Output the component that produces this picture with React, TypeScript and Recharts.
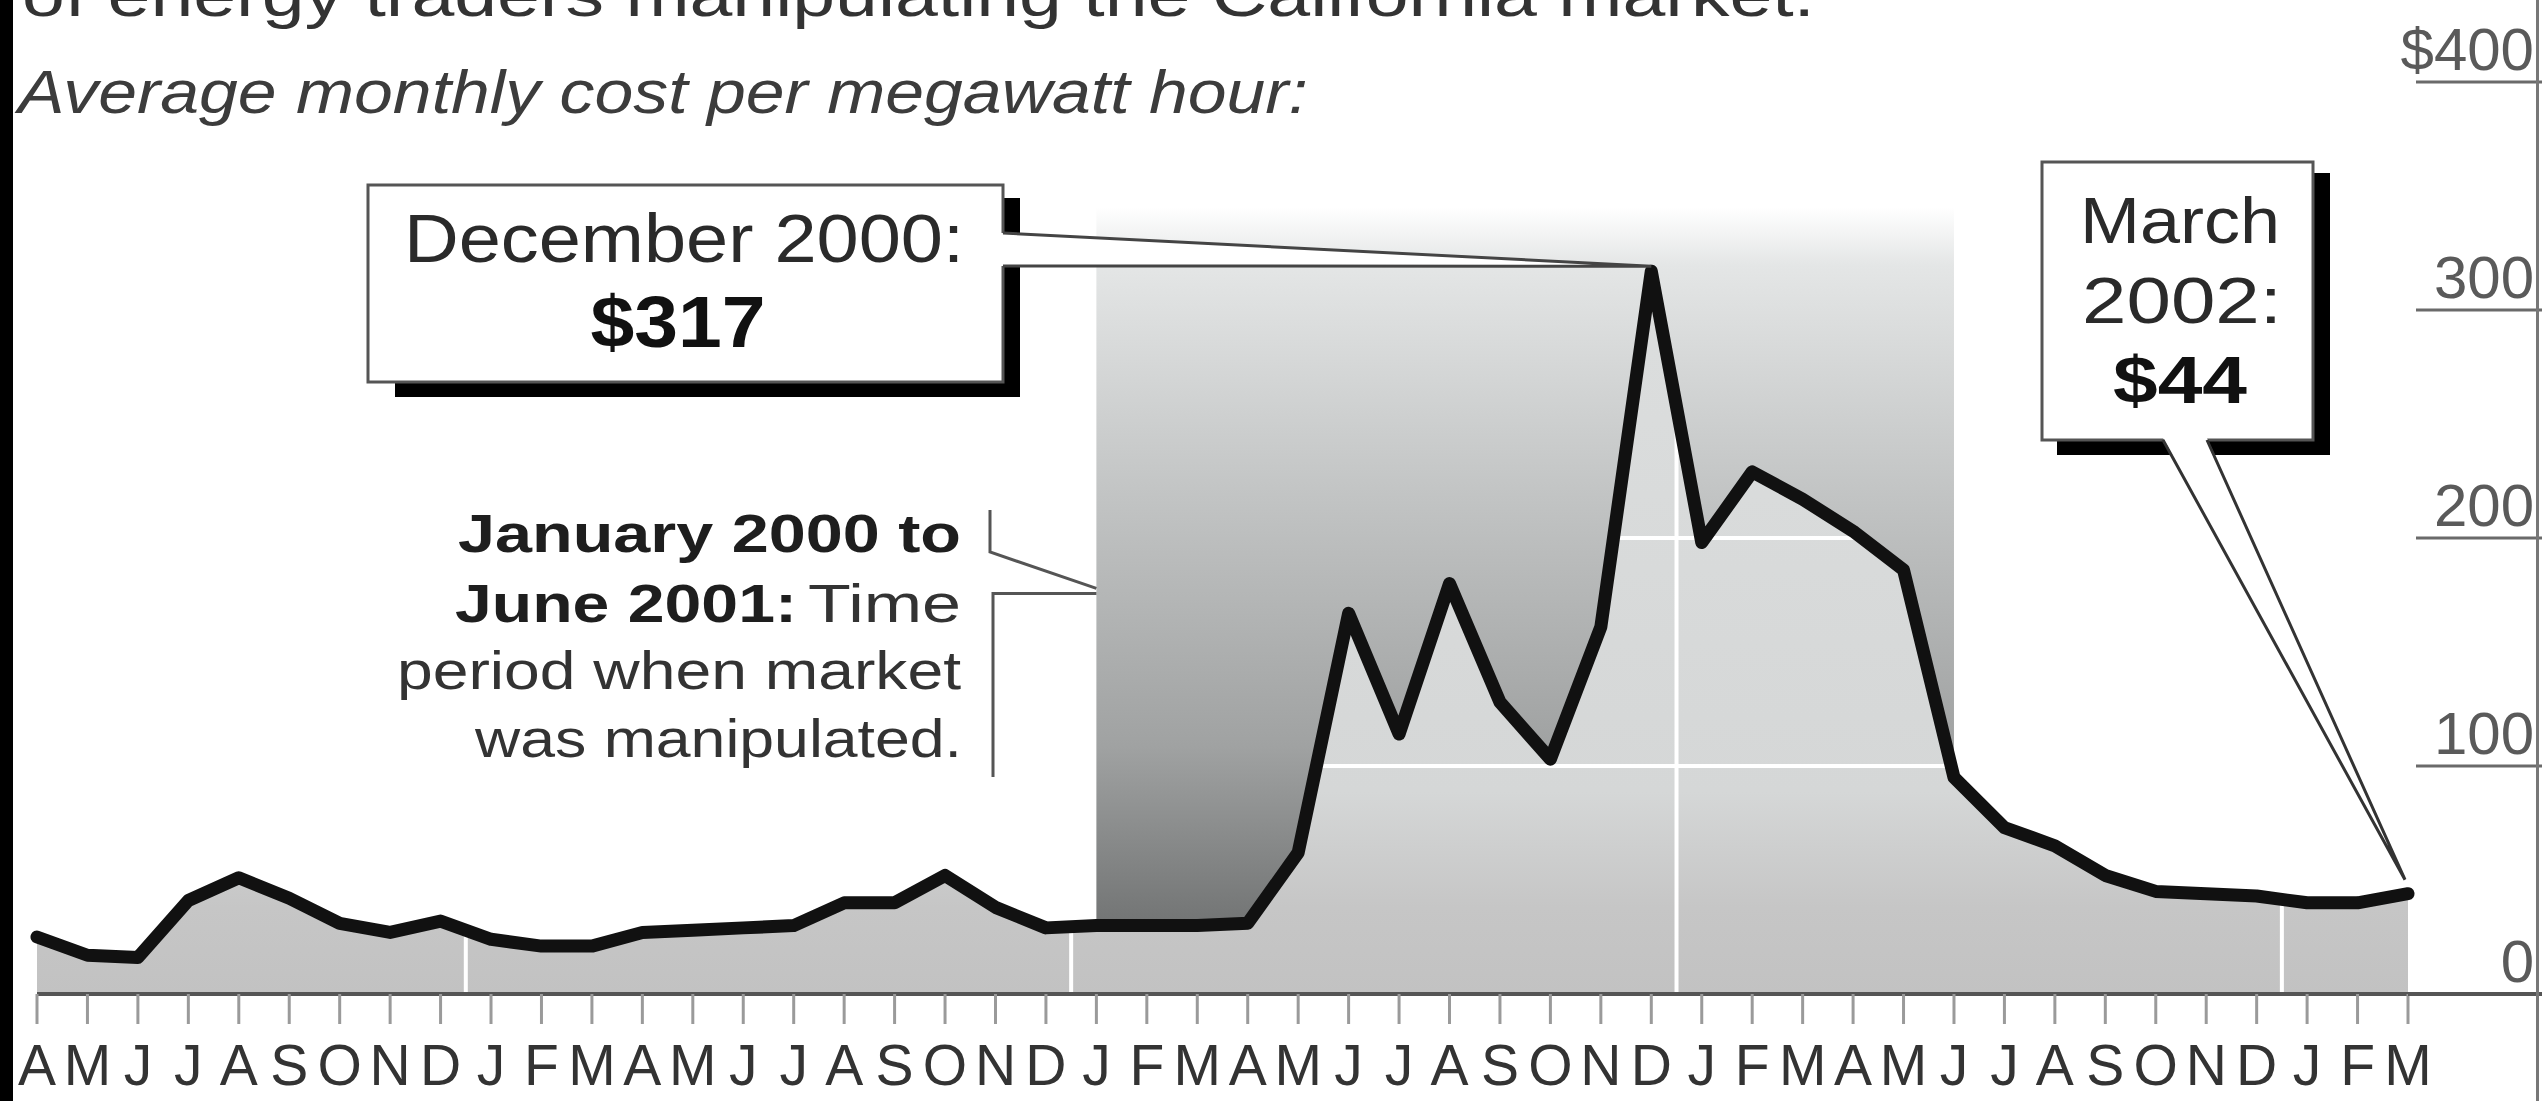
import { Area, ComposedChart, Line, ReferenceDot, ReferenceLine, XAxis, YAxis } from 'recharts';

// months April 1998 .. March 2002
const MONTHS = [
  'A', 'M', 'J', 'J', 'A', 'S', 'O', 'N', 'D',
  'J', 'F', 'M', 'A', 'M', 'J', 'J', 'A', 'S', 'O', 'N', 'D',
  'J', 'F', 'M', 'A', 'M', 'J', 'J', 'A', 'S', 'O', 'N', 'D',
  'J', 'F', 'M', 'A', 'M', 'J', 'J', 'A', 'S', 'O', 'N', 'D',
  'J', 'F', 'M',
];

// average monthly cost per megawatt hour, $
const COST = [
  25, 17, 16, 41, 51, 42, 31, 27, 32,
  24, 21, 21, 27, 28, 29, 30, 40, 40, 52, 38, 29,
  30, 30, 30, 31, 62, 167, 114, 180, 128, 103, 161, 317,
  198, 229, 217, 203, 186, 95, 73, 65, 52, 45, 44, 43,
  40, 40, 44,
];

const Y_TICKS = [0, 100, 200, 300, 400];
const GRID_VALUES = [100, 200, 300];

// January 2000 to June 2001: manipulated period
const BAND_START = 21;
const BAND_END = 38;
const BAND_TOP = 345;
const BAND_POINTER = 177;

const PEAK_INDEX = 32; // December 2000
const LAST_INDEX = COST.length - 1; // March 2002

const W = 2542;
const H = 1101;
const FONT = '"Liberation Sans", Arial, Helvetica, sans-serif';

const chartData = COST.map((cost, i) => ({
  i,
  cost,
  band: i >= BAND_START && i <= BAND_END ? [cost, BAND_TOP] : null,
}));

const yearBreaks = MONTHS.flatMap((m, i) => (m === 'J' && MONTHS[i - 1] === 'D' ? [i - 0.5] : []));

function MonthTick({ x, y, payload }: any) {
  return (
    <text x={x} y={y + 61} textAnchor="middle" fontFamily={FONT} fontSize={57} fill="#333">
      {MONTHS[payload.value]}
    </text>
  );
}

function CostTick({ x, y, payload }: any) {
  const v = payload.value;
  return (
    <g>
      <line
        x1={v === 0 ? x : x + 8}
        x2={x + 134}
        y1={y}
        y2={y}
        stroke={v === 0 ? '#555' : '#6a6a6a'}
        strokeWidth={v === 0 ? 4 : 3}
      />
      <text x={x + 126} y={y - 12} textAnchor="end" fontFamily={FONT} fontSize={60} fill="#5a5a5a">
        {v === 400 ? '$400' : v}
      </text>
    </g>
  );
}

const DEC_BOX = { x: 368, y: 185, w: 635, h: 197 };
const MAR_BOX = { x: 2042, y: 162, w: 271, h: 278 };

function DecCallout({ cx, cy }: any) {
  const b = DEC_BOX;
  const r = b.x + b.w;
  const tip = `${cx},${cy - 5}`;
  return (
    <g>
      <rect x={b.x + 27} y={b.y + 13} width={b.w - 10} height={b.h + 2} fill="#000" />
      <rect x={b.x} y={b.y} width={b.w} height={b.h} fill="#fff" stroke="#555" strokeWidth={3} />
      <polygon points={`${r - 2},${b.y + 48} ${tip} ${r - 2},${b.y + 81}`} fill="#fff" />
      <polyline
        points={`${r},${b.y + 48} ${tip} ${r},${b.y + 81}`}
        fill="none"
        stroke="#444"
        strokeWidth={3}
      />
      <text x={684} y={262} textAnchor="middle" fontFamily={FONT} fontSize={68} fill="#2a2a2a" textLength={560} lengthAdjust="spacingAndGlyphs">
        December 2000:
      </text>
      <text x={678} y={347} textAnchor="middle" fontFamily={FONT} fontSize={72} fontWeight="bold" fill="#111" textLength={175} lengthAdjust="spacingAndGlyphs">
        $317
      </text>
    </g>
  );
}

function MarCallout({ cx, cy }: any) {
  const b = MAR_BOX;
  const bottom = b.y + b.h;
  const tip = `${cx - 3},${cy - 14}`;
  return (
    <g>
      <rect x={b.x + 15} y={b.y + 11} width={b.w + 2} height={b.h + 4} fill="#000" />
      <rect x={b.x} y={b.y} width={b.w} height={b.h} fill="#fff" stroke="#555" strokeWidth={3} />
      <polygon points={`2163,${bottom - 2} ${tip} 2207,${bottom - 2}`} fill="#fff" />
      <polyline points={`2163,${bottom} ${tip} 2207,${bottom}`} fill="none" stroke="#333" strokeWidth={3} />
      <text x={2180} y={243} textAnchor="middle" fontFamily={FONT} fontSize={64} fill="#2a2a2a" textLength={200} lengthAdjust="spacingAndGlyphs">
        March
      </text>
      <text x={2182} y={323} textAnchor="middle" fontFamily={FONT} fontSize={64} fill="#2a2a2a" textLength={200} lengthAdjust="spacingAndGlyphs">
        2002:
      </text>
      <text x={2180} y={403} textAnchor="middle" fontFamily={FONT} fontSize={66} fontWeight="bold" fill="#111" textLength={134} lengthAdjust="spacingAndGlyphs">
        $44
      </text>
    </g>
  );
}

function BandPointer({ cx, cy }: any) {
  return (
    <g fill="none" stroke="#555" strokeWidth={3}>
      <polyline points={`990,510 990,552 ${cx},${cy - 2}`} />
      <polyline points={`${cx},${cy + 3} 993,${cy + 3} 993,777`} />
    </g>
  );
}

function Overlay() {
  const t = { fontFamily: FONT, lengthAdjust: 'spacingAndGlyphs' as const };
  return (
    <svg width={W} height={H} style={{ position: 'absolute', left: 0, top: 0, pointerEvents: 'none' }}>
      <rect x={0} y={0} width={13} height={H} fill="#000" />
      <rect x={2536} y={0} width={3} height={H} fill="#777" />
      <text x={22} y={16} fontSize={62} fill="#333" textLength={1793} {...t}>
        of energy traders manipulating the California market.
      </text>
      <text x={18} y={113} fontSize={62} fontStyle="italic" fill="#3c3c3c" textLength={1290} {...t}>
        Average monthly cost per megawatt hour:
      </text>
      <text x={961} y={552} textAnchor="end" fontSize={54} fontWeight="bold" fill="#1e1e1e" textLength={503} {...t}>
        January 2000 to
      </text>
      <text x={797} y={622} textAnchor="end" fontSize={54} fontWeight="bold" fill="#1e1e1e" textLength={342} {...t}>
        June 2001:
      </text>
      <text x={961} y={622} textAnchor="end" fontSize={54} fill="#333" textLength={153} {...t}>
        Time
      </text>
      <text x={961} y={689} textAnchor="end" fontSize={54} fill="#333" textLength={564} {...t}>
        period when market
      </text>
      <text x={962} y={757} textAnchor="end" fontSize={54} fill="#333" textLength={487} {...t}>
        was manipulated.
      </text>
    </svg>
  );
}

export default function App() {
  return (
    <div style={{ position: 'absolute', left: 0, top: 0, width: W, height: H, background: '#fff', overflow: 'hidden' }}>
      <ComposedChart width={W} height={H} data={chartData} margin={{ top: 82, right: 0, bottom: 7, left: 37 }}>
        <defs>
          <linearGradient id="lowFill" x1="0" y1="0" x2="0" y2="1">
            <stop offset="0" stopColor="#dcdede" />
            <stop offset="0.72" stopColor="#d5d7d7" />
            <stop offset="0.88" stopColor="#c6c6c6" />
            <stop offset="1" stopColor="#c2c2c2" />
          </linearGradient>
          <linearGradient id="bandFill" x1="0" y1="0" x2="0" y2="1">
            <stop offset="0" stopColor="#ffffff" />
            <stop offset="0.08" stopColor="#e4e6e6" />
            <stop offset="0.4" stopColor="#c2c4c4" />
            <stop offset="0.75" stopColor="#a0a2a2" />
            <stop offset="1" stopColor="#727474" />
          </linearGradient>
        </defs>
        <XAxis
          dataKey="i"
          type="number"
          domain={[0, MONTHS.length - 1]}
          ticks={MONTHS.map((_, i) => i)}
          interval={0}
          height={100}
          axisLine={{ stroke: '#555', strokeWidth: 4 }}
          tickLine={{ stroke: '#9a9a9a', strokeWidth: 3 }}
          tickSize={30}
          tickMargin={0}
          tick={<MonthTick />}
        />
        <YAxis
          orientation="right"
          domain={[0, 400]}
          ticks={Y_TICKS}
          width={134}
          axisLine={false}
          tickLine={false}
          tickSize={0}
          tickMargin={0}
          tick={<CostTick />}
        />
        <Area
          dataKey="cost"
          type="linear"
          fill="url(#lowFill)"
          fillOpacity={1}
          stroke="none"
          isAnimationActive={false}
          zIndex={100}
        />
        {GRID_VALUES.map((v) => (
          <ReferenceLine key={`g${v}`} y={v} stroke="#fff" strokeWidth={4} zIndex={150} />
        ))}
        {yearBreaks.map((x) => (
          <ReferenceLine key={`y${x}`} x={x} stroke="#fff" strokeWidth={4} zIndex={150} />
        ))}
        <Area
          dataKey="band"
          type="linear"
          fill="url(#bandFill)"
          fillOpacity={1}
          stroke="none"
          isAnimationActive={false}
          zIndex={200}
        />
        <Line
          dataKey="cost"
          type="linear"
          stroke="#111"
          strokeWidth={13}
          strokeLinejoin="round"
          strokeLinecap="round"
          dot={false}
          activeDot={false}
          isAnimationActive={false}
          zIndex={400}
        />
        <ReferenceDot x={BAND_START} y={BAND_POINTER} shape={(p: any) => <BandPointer cx={p.cx} cy={p.cy} />} zIndex={2000} />
        <ReferenceDot x={PEAK_INDEX} y={COST[PEAK_INDEX]} shape={(p: any) => <DecCallout cx={p.cx} cy={p.cy} />} zIndex={2000} />
        <ReferenceDot x={LAST_INDEX} y={COST[LAST_INDEX]} shape={(p: any) => <MarCallout cx={p.cx} cy={p.cy} />} zIndex={2000} />
      </ComposedChart>
      <Overlay />
    </div>
  );
}
